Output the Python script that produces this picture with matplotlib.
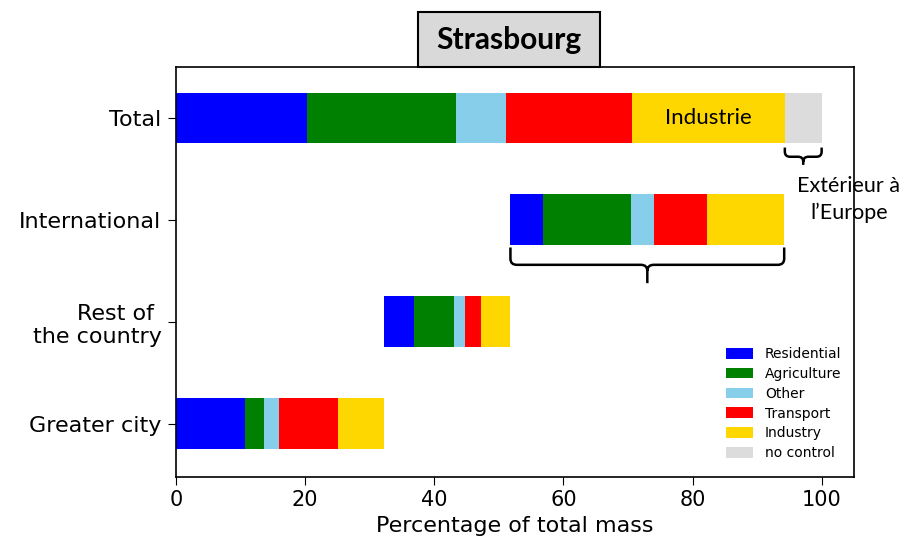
import numpy as np
import matplotlib
matplotlib.use('Agg')
import matplotlib.pyplot as plt
from matplotlib.path import Path
from matplotlib.patches import PathPatch, Rectangle

# === DATA === #
rows = ['Greater city', 'Rest of \nthe country', 'International', 'Total']
categories = ['Residential', 'Agriculture', 'Other', 'Transport', 'Industry', 'no control']
colors = ['#0000ff', '#008000', '#87ceeb', '#ff0000', '#ffd700', '#dcdcdc']

residential = [10.7, 4.6, 5.1, 20.3]
agriculture = [2.9, 6.3, 13.6, 23.0]
other = [2.3, 1.6, 3.6, 7.8]
transport = [9.2, 2.5, 8.2, 19.6]
industry = [7.1, 4.6, 11.9, 23.6]
no_control = [0.0, 0.0, 0.0, 5.7]

x_ticks = [0, 20, 40, 60, 80, 100]


def brace(ax, x0, x1, ytop, ymid, ytip, rx=1.0, dy=0.06):
    xm = (x0 + x1) / 2.0
    verts = [(x0, ytop), (x0, ymid + dy), (x0, ymid), (x0 + rx, ymid),
             (xm - rx, ymid), (xm, ymid), (xm, ymid - dy), (xm, ytip),
             (xm, ymid - dy), (xm, ymid), (xm + rx, ymid),
             (x1 - rx, ymid), (x1, ymid), (x1, ymid + dy), (x1, ytop)]
    codes = [Path.MOVETO, Path.LINETO, Path.CURVE3, Path.CURVE3,
             Path.LINETO, Path.CURVE3, Path.CURVE3, Path.LINETO,
             Path.MOVETO, Path.CURVE3, Path.CURVE3,
             Path.LINETO, Path.CURVE3, Path.CURVE3, Path.LINETO]
    ax.add_patch(PathPatch(Path(verts, codes), fill=False, lw=1.8,
                           edgecolor='black', capstyle='butt', clip_on=False))


def plot_chart():
    series = [residential, agriculture, other, transport, industry, no_control]
    data = np.array(series)
    row_tot = data.sum(axis=0)
    # waterfall: each region starts where the previous one ended, total from 0
    starts = [0.0, row_tot[0], row_tot[0] + row_tot[1], 0.0]

    fig = plt.figure(figsize=(9.18, 5.45), dpi=100)
    ax = fig.add_axes([0.1917, 0.125, 0.7385, 0.752])

    y = np.arange(len(rows))
    left = np.array(starts, dtype=float)
    for i in range(len(categories)):
        ax.barh(y, data[i], left=left, height=0.5, color=colors[i],
                label=categories[i], edgecolor='none')
        left = left + data[i]

    ax.set_xlim(0, 105)
    ax.set_ylim(-0.52, 3.5)
    ax.set_yticks(y)
    ax.set_yticklabels(rows, fontsize=16)
    ax.set_xticks(x_ticks)
    ax.tick_params(axis='x', labelsize=15, length=5.5, pad=4)
    ax.tick_params(axis='y', length=5.5, pad=5)
    ax.set_xlabel('Percentage of total mass', fontsize=16, labelpad=4)
    for s in ax.spines.values():
        s.set_linewidth(1.2)

    # annotations
    ind_left = sum(d[3] for d in series[:4])
    ax.text(ind_left + industry[3] / 2.0, 3, 'Industrie', fontsize=16,
            family='Lato', ha='center', va='center')
    nc_left = ind_left + industry[3]
    brace(ax, nc_left, nc_left + no_control[3], 2.71, 2.62, 2.54, rx=0.8, dy=0.05)
    ax.text(104.2, 2.2, 'Extérieur à\nl\u2019Europe', fontsize=15.5, family='Lato',
            ha='center', va='center', linespacing=1.45)
    brace(ax, starts[2], starts[2] + row_tot[2], 1.73, 1.56, 1.38)

    ax.legend(loc='lower right', frameon=False, fontsize=10,
              handlelength=1.95, handleheight=0.8, labelspacing=0.42,
              handletextpad=0.85, bbox_to_anchor=(1.0, 0.01))

    # title box
    fig.patches.append(Rectangle((418 / 918, 1 - 67 / 545), 182 / 918, 55 / 545,
                                 transform=fig.transFigure, facecolor='#d9d9d9',
                                 edgecolor='black', lw=1.5))
    fig.text(509 / 918, 1 - 40 / 545, 'Strasbourg', fontsize=21.5, fontweight='bold',
             family='Lato', ha='center', va='center')

    fig.savefig('out.png', dpi=100)


def main():
    plot_chart()


if __name__ == '__main__': main()
